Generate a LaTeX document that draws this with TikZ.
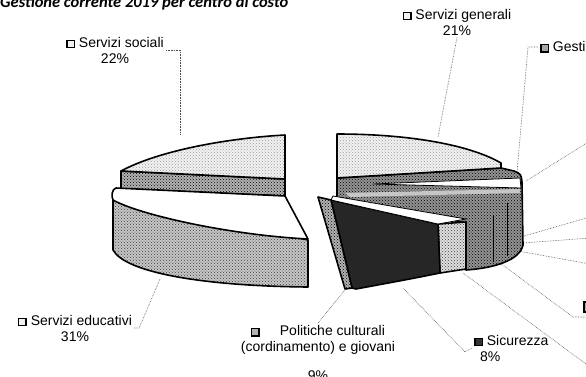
\documentclass[tikz,border=0pt]{standalone}
\usepackage{fontspec}
\setmainfont{Liberation Sans}
\newfontfamily\titlefont{Carlito}
\usepackage{tikz}
\usetikzlibrary{positioning,patterns}

\newcommand{\mk}[1]{{\setlength{\fboxsep}{0pt}\setlength{\fboxrule}{1.4pt}\fcolorbox{black}{#1}{\rule{0pt}{6pt}\rule{6pt}{0pt}}}}

\begin{document}
\begin{tikzpicture}[x=1pt,y=-1pt]
\tikzset{
  slice/.style={draw=black, line width=1.6pt, line join=round},
  light/.style={preaction={fill=gray!10}, pattern=crosshatch dots, pattern color=gray!80},
  mid/.style={preaction={fill=gray!45}, pattern=crosshatch dots, pattern color=black!75},
  dark/.style={preaction={fill=gray!60}, pattern=crosshatch dots, pattern color=black},
  leader/.style={densely dotted, gray!60!black, line width=0.6pt},
  lbl/.style={font=\fontsize{14}{16}\selectfont, align=center, inner sep=2pt}
}
\useasboundingbox (0,0) rectangle (586,376);
\clip (0,0) rectangle (586,376);

% 标题
\node[anchor=base west, inner sep=0pt, font=\titlefont\bfseries\itshape\fontsize{16.5}{19}\selectfont] (titolo) at (0,7) {Gestione corrente 2019 per centro di costo};

% 引线的端点
\coordinate (psoc) at (180,135);
\coordinate (pgen) at (438,137);
\coordinate (pgest) at (517,172);
\coordinate (pedu) at (160,279);
\coordinate (ppol) at (345,290);
\coordinate (psic) at (403,288);
\coordinate (pa) at (526,181); \coordinate (qa) at (590,141);
\coordinate (pb) at (524,236); \coordinate (qb) at (590,217);
\coordinate (pc) at (523,243); \coordinate (qc) at (590,238);
\coordinate (pd) at (518,251); \coordinate (qd) at (590,264);
\coordinate (pe) at (500,263); \coordinate (qe) at (590,317);
\coordinate (pf) at (463,273); \coordinate (qf) at (590,367);

% 标签
\node[lbl] (lsoc) at (115,50) {\mk{gray!12} Servizi sociali\\22\%};
\node[lbl] (lgen) at (457,22) {\mk{gray!12} Servizi generali\\21\%};
\node[lbl, anchor=west] (lgest) at (538,47) {\mk{gray!70} Gesti};
\node[lbl] (ledu) at (75,328) {\mk{gray!12} Servizi educativi\\31\%};
\node[lbl, anchor=north] (lpol) at (318,323) {\mk{gray!60}\hspace{20pt}Politiche culturali\\(cordinamento) e giovani\\[13pt]9\%};
\node[lbl, anchor=west, align=left] (lsic) at (472,348) {\mk{black!80} Sicurezza\\\hspace{6pt}8\%};
\draw[line width=1.4pt, fill=gray!60] (584,302) rectangle (594,312);

% 引线
\draw[leader] (lsoc.east) -| (psoc);
\draw[leader] (lgen.south) -- (pgen);
\draw[leader] (lgest.west) -- ++(-10,0) -- (pgest);
\draw[leader] (ledu.east) -- ++(5,0) -- (pedu);
\draw[leader] (ppol) -- (lpol.north);
\draw[leader] (psic) -- ++(62,64) -- (lsic.west);
\draw[leader] (pa) -- (qa);
\draw[leader] (pb) -- (qb);
\draw[leader] (pc) -- (qc);
\draw[leader] (pd) -- (qd);
\draw[leader] (pe) -- ++(73,54) -- (qe);
\draw[leader] (pf) -- (qf);

% Servizi sociali
\draw[slice, dark] (121,171) -- (285,179) -- (285,196) -- (121,189) -- cycle;
\draw[slice, light] (121,171) .. controls (160,150) and (230,138) .. (285,135) -- (285,179) -- cycle;

% Servizi generali e le fette sottili
\draw[slice, dark, preaction={fill=gray!85}] (337,178) -- (501,168) -- (514,171) .. controls (521,174) .. (522,182) -- (523,245) .. controls (520,260) and (495,268) .. (466,270) -- (466,223) -- (337,198) -- cycle;
\draw[slice, light] (337,134) .. controls (410,134) and (470,145) .. (501,163) -- (501,168) -- (337,178) -- cycle;
\fill[gray!45] (345,193) -- (520,189) -- (520,193) -- (350,197) -- cycle;
\draw[thick, fill=white] (373,184) -- (520,178) -- (521,188) -- cycle;
\draw[thick] (493,215) -- (493,262) (507,203) -- (507,256);

% Servizi educativi
\draw[slice, mid] (113,198) -- (113,250) .. controls (125,272) and (200,286) .. (308,287) -- (308,240) -- cycle;
\draw[slice, fill=white] (116,188) -- (285,196) -- (308,239) .. controls (230,235) and (140,215) .. (113,200) .. controls (111,196) and (112,189) .. cycle;

% fette davanti
\draw[slice, mid, preaction={fill=gray!25}] (438,224) -- (466,222) -- (466,269) -- (440,273) -- cycle;
\draw[slice, fill=black!85] (331,200) -- (438,224) -- (440,273) .. controls (410,279) .. (356,289) -- (352,288) -- cycle;
\draw[thick, fill=white] (333,196) -- (466,219) -- (438,224) -- (331,200) -- cycle;
\draw[slice, dark] (318,197) -- (331,200) -- (352,288) -- (345,289) -- cycle;

\end{tikzpicture}
\end{document}
